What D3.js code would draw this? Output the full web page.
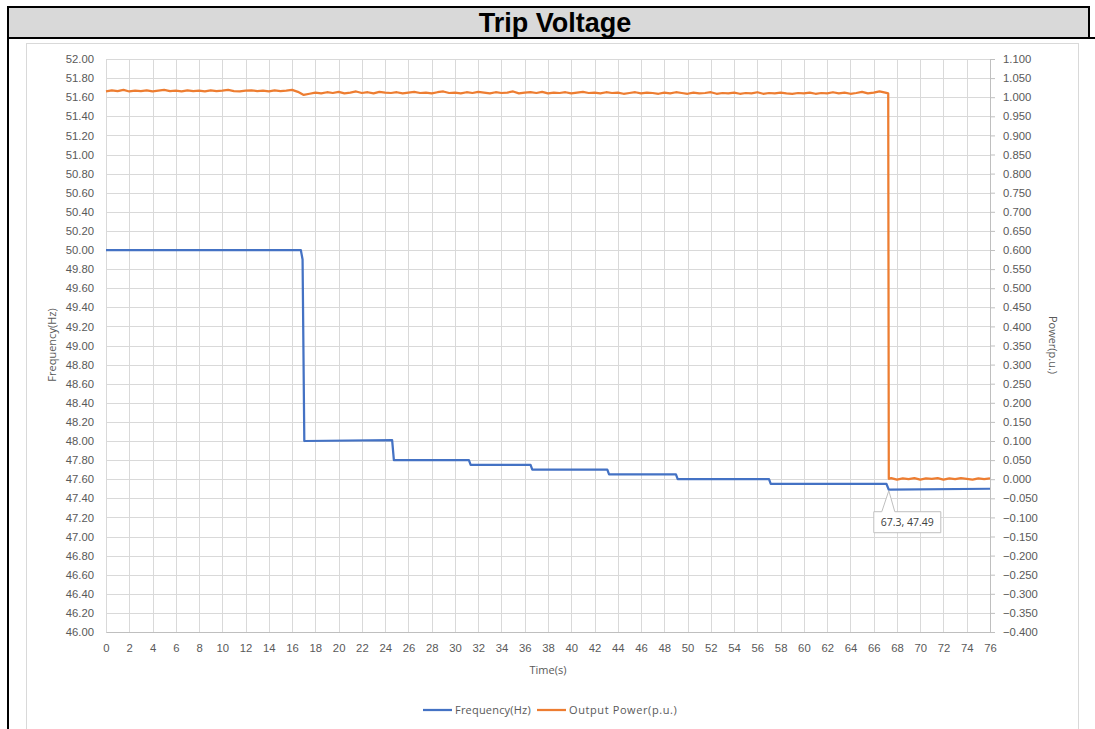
<!DOCTYPE html>
<html>
<head>
<meta charset="utf-8">
<script src="https://cdn.jsdelivr.net/npm/d3@7"></script>
<style>
  body { margin: 0; background: #fff; }
  svg { display: block; }
</style>
</head>
<body>
<div id="chart"></div>
<script>
// ---- data ----
const title = "Trip Voltage";
const xTicks = d3.range(0, 77, 2);
const freqTicks = d3.range(46, 52.001, 0.2);
const powerTicks = d3.range(-0.4, 1.1001, 0.05);

// frequency breakpoints [time (s), Hz]
const frequency = [
  [0, 50.00], [16.75, 50.00], [16.9, 49.90], [17.05, 48.00],
  [24.6, 48.01], [24.75, 47.80], [31.2, 47.80], [31.35, 47.75],
  [36.5, 47.75], [36.65, 47.70], [43.1, 47.70], [43.25, 47.65],
  [49.0, 47.65], [49.15, 47.60], [57.0, 47.60], [57.15, 47.55],
  [67.1, 47.55], [67.3, 47.49], [76, 47.50]
];

// output power every 0.5 s before the trip (t = 0 .. 67.0)
const powerStep = 0.5;
const powerBefore = [
  1.015, 1.018, 1.016, 1.019, 1.015, 1.017, 1.016, 1.018, 1.015, 1.017,
  1.019, 1.016, 1.017, 1.015, 1.018, 1.016, 1.017, 1.015, 1.018, 1.016,
  1.017, 1.019, 1.016, 1.015, 1.017, 1.018, 1.016, 1.017, 1.015, 1.018,
  1.016, 1.017, 1.019, 1.014, 1.006, 1.009, 1.012, 1.010, 1.013, 1.011,
  1.014, 1.010, 1.012, 1.015, 1.011, 1.013, 1.010, 1.014, 1.012, 1.011,
  1.013, 1.010, 1.012, 1.014, 1.011, 1.012, 1.010, 1.013, 1.015, 1.011,
  1.012, 1.010, 1.013, 1.011, 1.014, 1.012, 1.010, 1.013, 1.011, 1.012,
  1.015, 1.010, 1.012, 1.013, 1.011, 1.014, 1.010, 1.012, 1.011, 1.013,
  1.010, 1.012, 1.014, 1.011, 1.012, 1.010, 1.013, 1.011, 1.012, 1.009,
  1.011, 1.013, 1.010, 1.012, 1.011, 1.009, 1.012, 1.010, 1.013, 1.011,
  1.009, 1.012, 1.010, 1.011, 1.013, 1.009, 1.011, 1.010, 1.012, 1.009,
  1.011, 1.010, 1.013, 1.009, 1.011, 1.010, 1.012, 1.010, 1.009, 1.011,
  1.010, 1.012, 1.009, 1.011, 1.010, 1.013, 1.010, 1.012, 1.009, 1.011,
  1.014, 1.010, 1.012, 1.015, 1.012
];
// the trip itself
const powerTrip = [[67.25, 1.010], [67.3, 0.001]];
// after the trip, t = 67.5 .. 76
const powerAfter = [
  0.003, -0.001, 0.002, 0.000, 0.003, -0.001, 0.002, 0.001, 0.003,
  -0.001, 0.002, 0.000, 0.003, 0.001, -0.001, 0.002, 0.000, 0.002
];

const callout = {t: 67.3, f: 47.49, text: "67.3, 47.49"};
const seriesNames = ["Frequency(Hz)", "Output Power(p.u.)"];
const colors = ["#4472c4", "#ed7d31"];

// ---- layout ----
const W = 1095, H = 729;
const plot = {left: 106, right: 990, top: 59, bottom: 632};

const svg = d3.select("#chart").append("svg")
    .attr("width", W)
    .attr("height", H)
    .style("font-family", "'Open Sans', 'DejaVu Sans', sans-serif");

// frame of the table cell with the grey title band
svg.append("rect")
    .attr("x", 8).attr("y", 7)
    .attr("width", 1081).attr("height", 31)
    .attr("fill", "#d9d9d9")
    .attr("stroke", "#000").attr("stroke-width", 2);
svg.append("line")
    .attr("x1", 8).attr("x2", W)
    .attr("y1", 38).attr("y2", 38)
    .attr("stroke", "#000").attr("stroke-width", 2);
svg.append("line")
    .attr("x1", 8).attr("x2", 8)
    .attr("y1", 7).attr("y2", H)
    .attr("stroke", "#000").attr("stroke-width", 2);
svg.append("text")
    .attr("x", 555).attr("y", 32)
    .attr("text-anchor", "middle")
    .style("font-family", "'Liberation Sans', Arial, sans-serif")
    .style("font-weight", "bold")
    .style("font-size", "27px")
    .text(title);

// chart area border
svg.append("rect")
    .attr("x", 26.5).attr("y", 43.5)
    .attr("width", 1052).attr("height", 700)
    .attr("fill", "none")
    .attr("stroke", "#d9d9d9");

// scales
const x = d3.scaleLinear().domain([0, 76]).range([plot.left, plot.right]);
const yF = d3.scaleLinear().domain([46, 52]).range([plot.bottom, plot.top]);
const yP = d3.scaleLinear().domain([-0.4, 1.1]).range([plot.bottom, plot.top]);

// gridlines
const grid = svg.append("g").attr("stroke", "#d9d9d9").attr("stroke-width", 1);
grid.selectAll(".vg").data(xTicks).join("line")
    .attr("x1", d => Math.round(x(d)) + 0.5).attr("x2", d => Math.round(x(d)) + 0.5)
    .attr("y1", plot.top).attr("y2", plot.bottom);
grid.selectAll(".hg").data(freqTicks).join("line")
    .attr("x1", plot.left).attr("x2", plot.right)
    .attr("y1", d => Math.round(yF(d)) + 0.5).attr("y2", d => Math.round(yF(d)) + 0.5);

const tickColor = "#595959";
const tickFont = "11.3px";

// bottom axis
const xAxis = svg.append("g")
    .attr("transform", `translate(0, ${plot.bottom})`)
    .call(d3.axisBottom(x).tickValues(xTicks).tickSize(0).tickPadding(12).tickFormat(d3.format("d")));
xAxis.select(".domain").attr("stroke", "#bfbfbf");
xAxis.selectAll("text").attr("fill", tickColor).style("font-size", tickFont);

// left axis
const yAxisL = svg.append("g")
    .attr("transform", `translate(${plot.left}, 0)`)
    .call(d3.axisLeft(yF).tickValues(freqTicks).tickSize(0).tickPadding(12).tickFormat(d3.format(".2f")));
yAxisL.select(".domain").remove();
yAxisL.selectAll("text").attr("fill", tickColor).style("font-size", tickFont);

// right axis
const yAxisR = svg.append("g")
    .attr("transform", `translate(${plot.right}, 0)`)
    .call(d3.axisRight(yP).tickValues(powerTicks).tickSize(5).tickPadding(8)
        .tickFormat(d => d3.format(".3f")(Math.abs(d) < 1e-9 ? 0 : d)));
yAxisR.select(".domain").attr("stroke", "#bfbfbf");
yAxisR.selectAll(".tick line").attr("stroke", "#bfbfbf");
yAxisR.selectAll("text").attr("fill", tickColor).style("font-size", tickFont);

// axis titles
svg.append("text")
    .attr("transform", "translate(56, 345) rotate(-90)")
    .attr("text-anchor", "middle")
    .attr("fill", tickColor).style("font-size", "11px")
    .text("Frequency(Hz)");
svg.append("text")
    .attr("transform", "translate(1049, 345) rotate(90)")
    .attr("text-anchor", "middle")
    .attr("fill", tickColor).style("font-size", "11px")
    .text("Power(p.u.)");
svg.append("text")
    .attr("x", 548).attr("y", 674)
    .attr("text-anchor", "middle")
    .attr("fill", tickColor).style("font-size", "11px")
    .text("Time(s)");

// series
const power = powerBefore.map((p, i) => [i * powerStep, p])
    .concat(powerTrip)
    .concat(powerAfter.map((p, i) => [67.5 + i * powerStep, p]));

svg.append("path")
    .datum(power)
    .attr("fill", "none")
    .attr("stroke", colors[1])
    .attr("stroke-width", 2.25)
    .attr("stroke-linejoin", "round")
    .attr("d", d3.line().x(d => x(d[0])).y(d => yP(d[1])));

svg.append("path")
    .datum(frequency)
    .attr("fill", "none")
    .attr("stroke", colors[0])
    .attr("stroke-width", 2.25)
    .attr("stroke-linejoin", "round")
    .attr("d", d3.line().x(d => x(d[0])).y(d => yF(d[1])));

// callout for the trip point
const px = x(callout.t), py = yF(callout.f);
const bx = px - 15, by = py + 22, bw = 67, bh = 21;
svg.append("path")
    .attr("d", `M${bx},${by} H${px - 7} L${px},${py + 1} L${px + 6},${by} H${bx + bw} V${by + bh} H${bx} Z`)
    .attr("fill", "#fff")
    .attr("stroke", "#bfbfbf");
svg.append("text")
    .attr("x", bx + bw / 2).attr("y", by + 14.5)
    .attr("text-anchor", "middle")
    .attr("fill", "#404040").style("font-size", "10.5px")
    .text(callout.text);

// legend
const legend = svg.append("g").attr("transform", "translate(423, 710)");
const legendX = [0, 114];
seriesNames.forEach((name, i) => {
  const g = legend.append("g").attr("transform", `translate(${legendX[i]}, 0)`);
  g.append("line").attr("x1", 0).attr("x2", 29)
      .attr("stroke", colors[i]).attr("stroke-width", 2.25);
  g.append("text").attr("x", 32).attr("y", 4)
      .attr("fill", tickColor).style("font-size", "11px")
      .style("letter-spacing", i === 1 ? "0.6px" : "0.2px")
      .text(name);
});
</script>
</body>
</html>
